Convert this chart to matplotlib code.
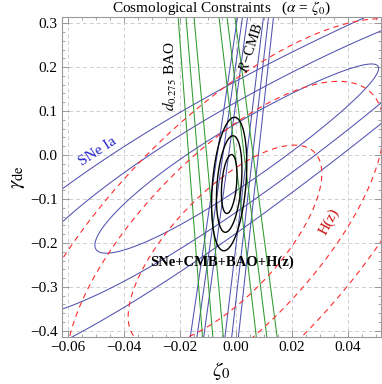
import numpy as np
import matplotlib.pyplot as plt
from matplotlib.ticker import MultipleLocator, FixedLocator, FixedFormatter

plt.rcParams['font.family'] = ['Liberation Serif', 'DejaVu Serif']
plt.rcParams['mathtext.fontset'] = 'stix'

# delta chi^2 for 1, 2, 3 sigma (two parameters)
levels = [2.30, 6.17, 11.8]

# SNe Ia: centre, sigmas, correlation, narrowing of the band towards +zeta0
sne_center = (0.0003, -0.004)
sne_sigma = (0.0334, 0.143)
sne_rho = 0.927
sne_taper = 3.0
sne_pivot = -0.02

# H(z)
hz_center = (-0.0039, -0.205)
hz_sigma = (0.0228, 0.150)
hz_rho = 0.715

# SNe+CMB+BAO+H(z)
comb_center = (-0.0024, -0.066)
comb_sigma = (0.00183, 0.0442)
comb_rho = 0.3

# CMB shift parameter and BAO bands: mid-line and width at bottom / top
band_y = [-0.414, 0.314]
cmb_mid = [-0.0077, 0.0070]
cmb_width = [0.0025, 0.00187]
bao_mid = [0.0014, -0.0105]
bao_width = [0.00388, 0.00295]

xticks = [-0.06, -0.04, -0.02, 0.00, 0.02, 0.04]
yticks = [-0.4, -0.3, -0.2, -0.1, 0.0, 0.1, 0.2, 0.3]


def chi2_gauss(X, Y, c, s, rho, taper=0.0, pivot=0.0):
    dx = X - c[0]
    dy = Y - c[1]
    mean_y = rho * s[1] / s[0] * dx
    f = np.clip(1 - taper * (X - pivot), 0.2, None)
    cond = s[1] * np.sqrt(1 - rho**2) * f
    return (dx / s[0])**2 + ((dy - mean_y) / cond)**2


def chi2_band(X, Y, mid, width):
    t = (Y - band_y[0]) / (band_y[1] - band_y[0])
    m = mid[0] + t * (mid[1] - mid[0])
    w = width[0] + t * (width[1] - width[0])
    return ((X - m) / w)**2


x = np.linspace(-0.08, 0.07, 700)
y = np.linspace(-0.6, 0.45, 700)
X, Y = np.meshgrid(x, y)

fig = plt.figure(figsize=(3.82, 3.84), dpi=100)
ax = fig.add_axes([0.1623, 0.1224, 0.835, 0.8333])

blue = '#5252b0'
green = '#2f9a2f'
red = '#ff2b2b'

ax.contour(X, Y, chi2_gauss(X, Y, sne_center, sne_sigma, sne_rho, sne_taper, sne_pivot),
           levels=levels, colors=blue, linewidths=0.75)
ax.contour(X, Y, chi2_band(X, Y, cmb_mid, cmb_width), levels=levels,
           colors=blue, linewidths=0.75)
ax.contour(X, Y, chi2_band(X, Y, bao_mid, bao_width), levels=levels,
           colors=green, linewidths=0.75)
ax.contour(X, Y, chi2_gauss(X, Y, hz_center, hz_sigma, hz_rho), levels=levels,
           colors=red, linewidths=0.8, linestyles=[(0, (5, 4))])
ax.contour(X, Y, chi2_gauss(X, Y, comb_center, comb_sigma, comb_rho), levels=levels,
           colors='black', linewidths=1.0)

ax.set_xlim(-0.0621, 0.0518)
ax.set_ylim(-0.414, 0.314)

ax.xaxis.set_major_locator(FixedLocator(xticks))
ax.xaxis.set_major_formatter(FixedFormatter([('%.2f' % v).replace('-', '\u2212') for v in xticks]))
ax.yaxis.set_major_locator(FixedLocator(yticks))
ax.yaxis.set_major_formatter(FixedFormatter([('%.1f' % v).replace('-', '\u2212') for v in yticks]))
ax.xaxis.set_minor_locator(MultipleLocator(0.005))
ax.yaxis.set_minor_locator(MultipleLocator(0.02))
ax.tick_params(which='both', direction='in', top=True, right=True, color='#999999',
               labelsize=11, pad=3)
ax.tick_params(which='major', length=5, width=0.7)
ax.tick_params(which='minor', length=2.5, width=0.6)
for sp in ax.spines.values():
    sp.set_color('#999999')
    sp.set_linewidth(0.8)

ax.grid(True, which='major', color='#cfcfcf', linestyle=(0, (4, 3)), linewidth=0.7)
ax.set_axisbelow(True)

ax.set_title('Cosmological Constraints   ($\\alpha$ = $\\zeta_0$)', fontsize=11, pad=3)
ax.set_xlabel('$\\zeta_0$', fontsize=15, labelpad=4)
ax.set_ylabel('$\\gamma_{\\rm de}$', fontsize=15, labelpad=2)

ax.text(-0.0236, 0.18, '$d_{0.275}$ BAO', rotation=90, fontsize=11,
        ha='center', va='center')
ax.text(0.0054, 0.243, '$R$\u2212CMB', rotation=72, fontsize=10.5,
        ha='center', va='center')
ax.text(-0.0493, 0.007, 'SNe Ia', rotation=33, fontsize=11, color='#2424c8',
        ha='center', va='center')
ax.text(0.0332, -0.152, 'H(z)', rotation=62, fontsize=11, color='#cc1010',
        ha='center', va='center')
ax.text(-0.005, -0.245, 'SNe+CMB+BAO+H(z)', fontsize=10.5, fontweight='bold',
        ha='center', va='center')

fig.savefig('out.png', dpi=100)
